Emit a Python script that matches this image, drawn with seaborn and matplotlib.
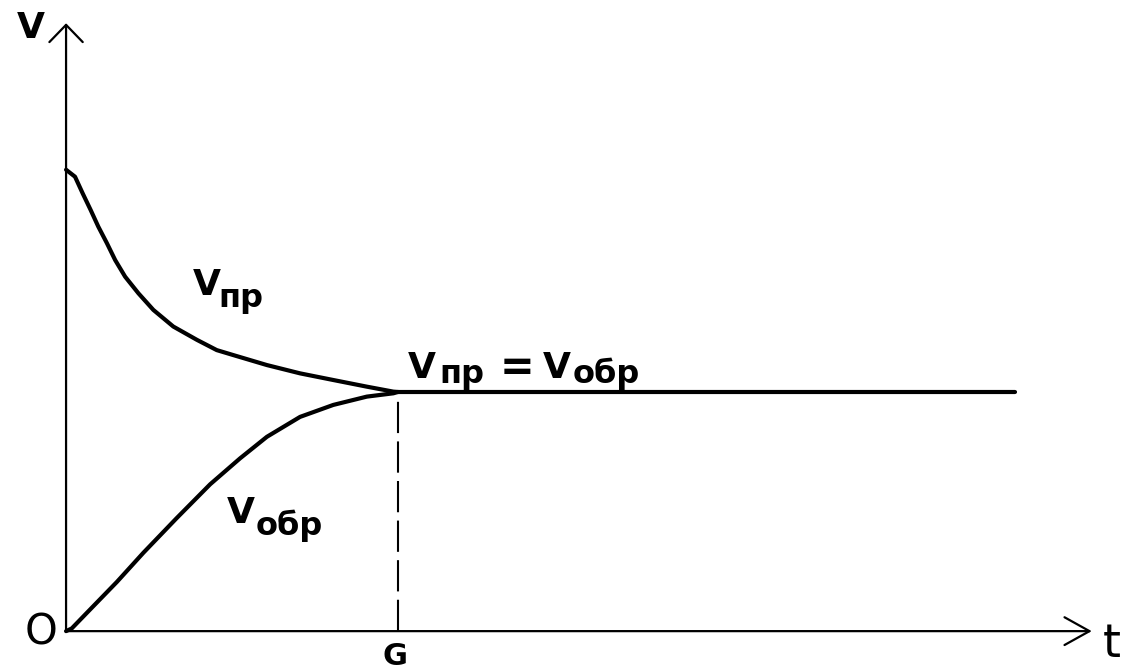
import matplotlib
matplotlib.use("Agg")
import matplotlib.pyplot as plt
import seaborn as sns
import pandas as pd

# forward reaction rate (Vпр)
t_pr = [0, 0.27, 0.50, 0.74, 0.97, 1.23, 1.48, 1.78, 2.18, 2.63, 3.23, 3.94,
        4.54, 5.04, 6.05, 7.05, 8.05, 9.06, 9.86, 10.0]
v_pr = [13.89, 13.68, 13.18, 12.68, 12.18, 11.68, 11.17, 10.67, 10.17, 9.67,
        9.17, 8.77, 8.46, 8.31, 8.01, 7.76, 7.56, 7.36, 7.21, 7.2]

# reverse reaction rate (Vобр)
t_obr = [0, 0.17, 0.82, 1.53, 2.33, 3.33, 4.34, 5.24, 6.05, 7.05, 8.05,
         9.06, 9.86, 10.0]
v_obr = [0, 0.08, 0.75, 1.48, 2.36, 3.40, 4.42, 5.20, 5.85, 6.45, 6.81,
         7.06, 7.16, 7.2]

# equilibrium part
t_eq = [10.0, 28.6]
v_eq = [7.2, 7.2]

t_G = 10.0
t_max = 30.9
v_max = 18.3

df = pd.concat([
    pd.DataFrame({'t': t_pr, 'v': v_pr, 'series': 'пр'}),
    pd.DataFrame({'t': t_obr, 'v': v_obr, 'series': 'обр'}),
    pd.DataFrame({'t': t_eq, 'v': v_eq, 'series': 'eq'}),
])

sns.set_style('white')
fig = plt.figure(figsize=(11.22, 6.7), dpi=100)
ax = fig.add_axes([0, 0, 1, 1])

sns.lineplot(data=df, x='t', y='v', units='series', estimator=None, sort=False,
             color='black', lw=3, ax=ax)

# dashed line down to G
ax.plot([t_G, t_G], [0, v_eq[0]], color='black', lw=1.5, dashes=(15, 4))

# axes with open arrows
ax.annotate('', xy=(0, v_max), xytext=(0, 0),
            arrowprops=dict(arrowstyle='->,head_length=0.62,head_width=0.6',
                            lw=1.6, color='black', mutation_scale=20,
                            shrinkA=0, shrinkB=0))
ax.annotate('', xy=(t_max, 0), xytext=(0, 0),
            arrowprops=dict(arrowstyle='->,head_length=0.9,head_width=0.5',
                            lw=1.6, color='black', mutation_scale=20,
                            shrinkA=0, shrinkB=0))

ax.set_xlim(-1.99, 31.81)
ax.set_ylim(-1.17, 19.0)
ax.axis('off')

big = dict(fontsize=26, fontweight='bold', color='black')
sub = dict(fontsize=23, fontweight='bold', color='black')

# axis letters
ax.text(-1.05, 18.16, 'V', ha='center', va='center', **big)
ax.text(-0.75, -0.05, 'O', ha='center', va='center', fontsize=30, color='black')
ax.text(31.5, -0.4, 't', ha='center', va='center', fontsize=33, color='black')
ax.text(t_G - 0.1, -0.75, 'G', ha='center', va='center', fontsize=22,
        fontweight='bold', color='black')

# curve labels
ax.text(3.83, 10.12, 'V', ha='left', va='baseline', **big)
ax.text(4.6, 9.76, 'пр', ha='left', va='baseline', **sub)

ax.text(4.85, 3.25, 'V', ha='left', va='baseline', **big)
ax.text(5.7, 2.89, 'обр', ha='left', va='baseline', **sub)

ax.text(10.3, 7.62, 'V', ha='left', va='baseline', **big)
ax.text(11.26, 7.46, 'пр', ha='left', va='baseline', **sub)
ax.text(13.05, 7.55, '=', ha='left', va='baseline', fontsize=30,
        fontweight='bold', color='black')
ax.text(14.35, 7.62, 'V', ha='left', va='baseline', **big)
ax.text(15.26, 7.46, 'обр', ha='left', va='baseline', **sub)

plt.savefig('out.png', dpi=100)
plt.close()
